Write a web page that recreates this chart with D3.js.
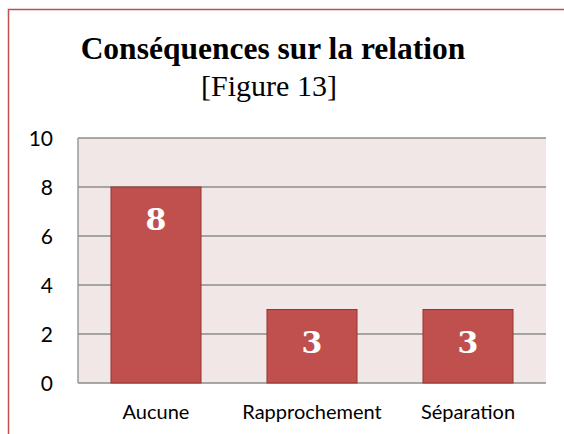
<!DOCTYPE html>
<html><head><meta charset="utf-8">
<script src="https://cdn.jsdelivr.net/npm/d3@7"></script>
<style>body{margin:0;background:#fff}svg{display:block}</style>
</head><body>
<script>
const categories = ["Aucune", "Rapprochement", "Séparation"];
const values = [8, 3, 3];
const yTicks = [0, 2, 4, 6, 8, 10];
const title = "Conséquences sur la relation";
const subtitle = "[Figure 13]";

(function () {
const W = 564, H = 434;
const svg = d3.select("body").append("svg").attr("width", W).attr("height", H);

svg.append("rect").attr("x", 8.5).attr("y", 9.5).attr("width", 600).attr("height", 500)
  .attr("fill", "#fff").attr("stroke", "#C0504D").attr("stroke-width", 1.5);

const pl = 78, pr = 546, pt = 138, pb = 383;
const x = d3.scaleBand().domain(categories).range([pl, pr]).paddingInner(0.423).paddingOuter(0.2115);
const y = d3.scaleLinear().domain([0, 10]).range([pb, pt]);

svg.append("rect").attr("x", pl).attr("y", pt).attr("width", pr - pl).attr("height", pb - pt)
  .attr("fill", "#F2E7E7");

svg.append("g").selectAll("line").data(yTicks).join("line")
  .attr("x1", pl).attr("x2", pr).attr("y1", d => y(d)).attr("y2", d => y(d))
  .attr("stroke", "#8c8c8c").attr("stroke-width", 1.3);

svg.append("line").attr("x1", pl).attr("x2", pl).attr("y1", pt).attr("y2", pb)
  .attr("stroke", "#8c8c8c").attr("stroke-width", 1.3);

svg.append("g").selectAll("rect").data(values).join("rect")
  .attr("x", (d, i) => x(categories[i])).attr("width", x.bandwidth())
  .attr("y", d => y(d)).attr("height", d => y(0) - y(d))
  .attr("fill", "#C0504D").attr("stroke", "#943634").attr("stroke-width", 1);

svg.append("g").selectAll("text").data(values).join("text")
  .attr("x", (d, i) => x(categories[i]) + x.bandwidth() / 2)
  .attr("y", d => y(d) + 43)
  .attr("text-anchor", "middle").attr("fill", "#fff")
  .attr("font-family", "DejaVu Serif, serif").attr("font-weight", "bold").attr("font-size", 30)
  .text(d => d);

svg.append("g").selectAll("text").data(yTicks).join("text")
  .attr("x", 53).attr("y", d => y(d) + 7.5)
  .attr("text-anchor", "end").attr("fill", "#000")
  .attr("font-family", "Lato, sans-serif").attr("font-size", 21)
  .text(d => d);

svg.append("g").selectAll("text").data(categories).join("text")
  .attr("x", d => x(d) + x.bandwidth() / 2).attr("y", 419)
  .attr("text-anchor", "middle").attr("fill", "#000")
  .attr("font-family", "Lato, sans-serif").attr("font-size", 20)
  .text(d => d);

svg.append("text").attr("x", 273).attr("y", 59).attr("text-anchor", "middle")
  .attr("font-family", "Liberation Serif, serif").attr("font-weight", "bold").attr("font-size", 31.5)
  .text(title);
svg.append("text").attr("x", 269).attr("y", 96).attr("text-anchor", "middle")
  .attr("font-family", "Liberation Serif, serif").attr("font-size", 30)
  .text(subtitle);
})();
</script>
</body></html>
